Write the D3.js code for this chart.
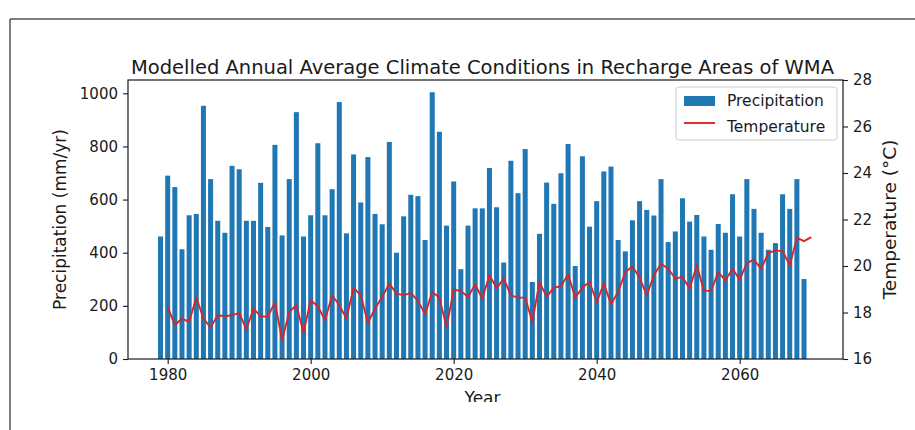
<!DOCTYPE html>
<html><head><meta charset="utf-8">
<script src="https://cdn.jsdelivr.net/npm/d3@7/dist/d3.min.js"></script>
<style>body{margin:0;background:#fff}text{font-family:"DejaVu Sans",sans-serif}</style>
</head><body><svg id="c" width="915" height="430"></svg>
<script>
// ---- data ----
const precipYears = [1979,1980,1981,1982,1983,1984,1985,1986,1987,1988,1989,1990,1991,1992,1993,1994,1995,1996,1997,1998,1999,2000,2001,2002,2003,2004,2005,2006,2007,2008,2009,2010,2011,2012,2013,2014,2015,2016,2017,2018,2019,2020,2021,2022,2023,2024,2025,2026,2027,2028,2029,2030,2031,2032,2033,2034,2035,2036,2037,2038,2039,2040,2041,2042,2043,2044,2045,2046,2047,2048,2049,2050,2051,2052,2053,2054,2055,2056,2057,2058,2059,2060,2061,2062,2063,2064,2065,2066,2067,2068,2069];
const precipitation = [461,690,647,413,541,546,953,677,520,475,727,714,520,520,663,497,806,465,677,929,461,541,812,541,639,967,473,770,589,760,546,507,817,400,537,618,613,448,1004,855,502,668,338,502,567,567,719,571,363,746,624,790,290,471,664,584,699,809,350,763,498,594,706,724,448,405,522,594,561,540,677,440,480,605,517,542,461,411,508,475,620,461,677,565,475,411,436,620,565,677,301];
const tempYears = [1980,1981,1982,1983,1984,1985,1986,1987,1988,1989,1990,1991,1992,1993,1994,1995,1996,1997,1998,1999,2000,2001,2002,2003,2004,2005,2006,2007,2008,2009,2010,2011,2012,2013,2014,2015,2016,2017,2018,2019,2020,2021,2022,2023,2024,2025,2026,2027,2028,2029,2030,2031,2032,2033,2034,2035,2036,2037,2038,2039,2040,2041,2042,2043,2044,2045,2046,2047,2048,2049,2050,2051,2052,2053,2054,2055,2056,2057,2058,2059,2060,2061,2062,2063,2064,2065,2066,2067,2068,2069,2070];
const temperature = [18.24,17.46,17.74,17.6,18.64,17.74,17.36,17.88,17.84,17.88,17.98,17.27,18.17,17.84,17.81,18.45,16.81,18.03,18.31,17.13,18.53,18.27,17.67,18.74,18.31,17.74,19.07,18.74,17.56,18.17,18.67,19.24,18.81,18.74,18.84,18.5,17.93,18.88,18.64,17.36,18.98,18.93,18.67,19.21,18.6,19.6,19.05,19.46,18.74,18.64,18.64,17.6,19.31,18.67,19.07,19.13,19.64,18.64,19.07,19.31,18.45,19.24,18.36,18.88,19.74,19.98,19.5,18.74,19.6,20.1,19.88,19.46,19.53,19.03,20.03,18.93,18.93,19.74,19.38,19.88,19.41,20.12,20.27,19.88,20.55,20.67,20.64,20.03,21.21,21.07,21.24];
const xTicks = [1980,2000,2020,2040,2060];
const precipTicks = [0,200,400,600,800,1000];
const tempTicks = [16,18,20,22,24,26,28];
const title = "Modelled Annual Average Climate Conditions in Recharge Areas of WMA";
const xLabel = "Year", yLabelLeft = "Precipitation (mm/yr)", yLabelRight = "Temperature (°C)";
const seriesNames = ["Precipitation","Temperature"];

// ---- layout ----
const L = 128, R = 843, T = 80, B = 359;
const svg = d3.select("#c");
const x = d3.scaleLinear().domain([1974.45, 2074.45]).range([L, R]);
const yP = d3.scaleLinear().domain([0, 1050]).range([B, T]);
const yT = d3.scaleLinear().domain([16, 28]).range([B, T]);
const blue = "#1f77b4", red = "#d62728", ink = "#1a1a1a";

// frame of the figure
svg.append("line").attr("x1",10).attr("x2",10).attr("y1",19).attr("y2",430).attr("stroke","#555").attr("stroke-width",1.5);
svg.append("line").attr("x1",10).attr("x2",915).attr("y1",19).attr("y2",19).attr("stroke","#555").attr("stroke-width",1.5);

// bars
const bw = 0.7;
svg.append("g").selectAll("rect").data(precipitation).join("rect")
  .attr("x", (d,i) => x(precipYears[i] - bw/2))
  .attr("width", x(bw) - x(0))
  .attr("y", d => yP(d))
  .attr("height", d => yP(0) - yP(d))
  .attr("fill", blue);

// line
const line = d3.line().x((d,i) => x(tempYears[i])).y(d => yT(d));
svg.append("path").datum(temperature).attr("d", line).attr("fill","none").attr("stroke",red).attr("stroke-width",1.9).attr("stroke-linejoin","round");

// spines
svg.append("rect").attr("x",L).attr("y",T).attr("width",R-L).attr("height",B-T).attr("fill","none").attr("stroke",ink).attr("stroke-width",1.2);

function style(g){
  g.select(".domain").remove();
  g.selectAll(".tick line").attr("stroke",ink).attr("stroke-width",1.1);
  g.selectAll(".tick text").attr("fill",ink).style("font-size","15px").style("font-family","DejaVu Sans");
}
svg.append("g").attr("transform",`translate(0,${B})`)
  .call(d3.axisBottom(x).tickValues(xTicks).tickFormat(d3.format("d")).tickSize(5).tickPadding(5)).call(style);
svg.append("g").attr("transform",`translate(${L},0)`)
  .call(d3.axisLeft(yP).tickValues(precipTicks).tickFormat(d3.format("d")).tickSize(5).tickPadding(5)).call(style);
svg.append("g").attr("transform",`translate(${R},0)`)
  .call(d3.axisRight(yT).tickValues(tempTicks).tickFormat(d3.format("d")).tickSize(5).tickPadding(5)).call(style);

// title & labels
svg.append("text").attr("x",(L+R)/2 - 3).attr("y",T-6).attr("text-anchor","middle").attr("fill",ink).style("font-size","19.5px").text(title);
svg.append("text").attr("transform",`translate(66,${(T+B)/2}) rotate(-90)`).attr("text-anchor","middle").attr("fill",ink).style("font-size","17px").text(yLabelLeft);
svg.append("text").attr("transform",`translate(896,${(T+B)/2}) rotate(-90)`).attr("text-anchor","middle").attr("fill",ink).style("font-size","18.5px").text(yLabelRight);
svg.append("text").attr("x",(L+R)/2 - 3).attr("y",404).attr("text-anchor","middle").attr("fill",ink).style("font-size","17px").text(xLabel);
// the reference image is cut just below the x label
svg.append("rect").attr("x",11).attr("y",402).attr("width",904).attr("height",28).attr("fill","#fff");

// legend
const lg = svg.append("g").attr("transform","translate(676,87)");
lg.append("rect").attr("width",161).attr("height",53).attr("rx",3).attr("fill","#fff").attr("fill-opacity",0.85).attr("stroke","#ccc");
lg.append("rect").attr("x",8).attr("y",9).attr("width",31).attr("height",10).attr("fill",blue);
lg.append("line").attr("x1",8).attr("x2",39).attr("y1",36).attr("y2",36).attr("stroke",red).attr("stroke-width",1.9);
lg.selectAll("text.lt").data(seriesNames).join("text").attr("class","lt")
  .attr("x",51).attr("y",(d,i)=>19+i*26).attr("fill",ink).style("font-size","15.5px").text(d=>d);
</script></body></html>
